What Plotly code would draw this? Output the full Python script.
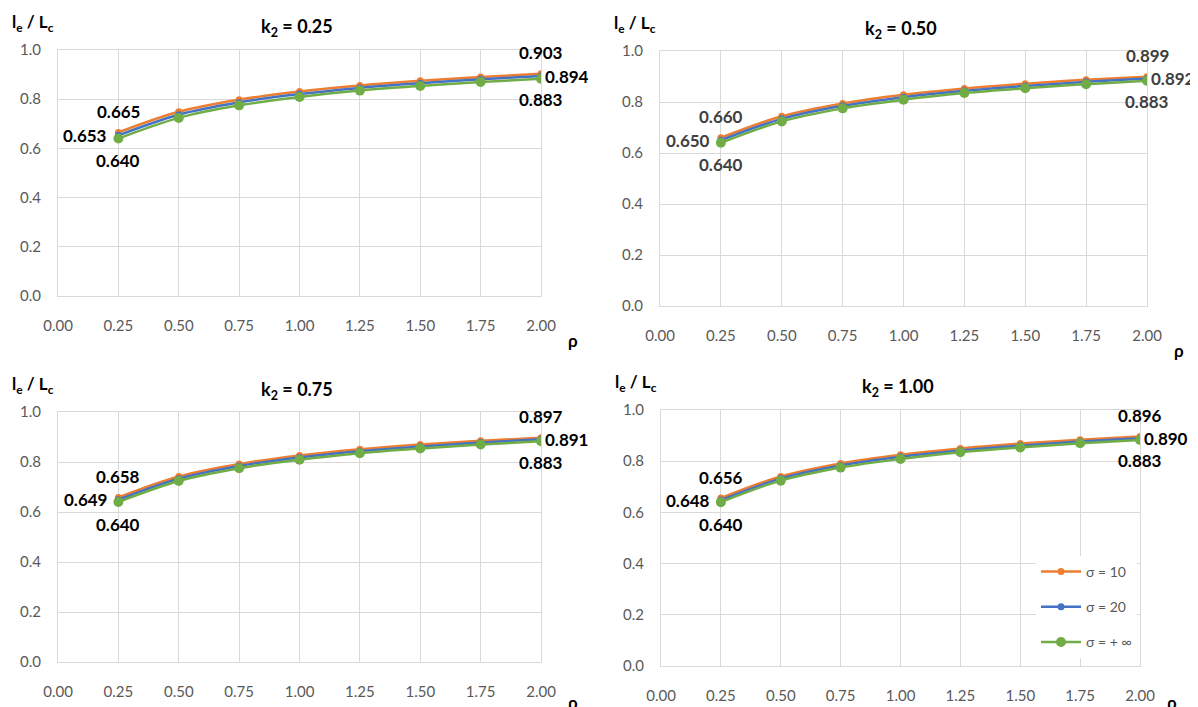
import plotly.graph_objects as go

OFF = 8  # page body margin offset
W, H = 1198 - OFF, 707 - OFF

rho = [0.25, 0.50, 0.75, 1.00, 1.25, 1.50, 1.75, 2.00]
x_ticks = [0.00, 0.25, 0.50, 0.75, 1.00, 1.25, 1.50, 1.75, 2.00]
y_ticks = [0.0, 0.2, 0.4, 0.6, 0.8, 1.0]

k2_labels = ["0.25", "0.50", "0.75", "1.00"]

sigma_inf = [0.640, 0.724, 0.775, 0.809, 0.835, 0.854, 0.870, 0.883]

s10_k025 = [0.665, 0.749, 0.798, 0.831, 0.856, 0.875, 0.890, 0.903]
s20_k025 = [0.653, 0.737, 0.787, 0.821, 0.846, 0.865, 0.881, 0.894]
s10_k050 = [0.660, 0.744, 0.794, 0.828, 0.853, 0.872, 0.887, 0.899]
s20_k050 = [0.650, 0.734, 0.785, 0.819, 0.844, 0.863, 0.879, 0.892]
s10_k075 = [0.658, 0.742, 0.792, 0.826, 0.851, 0.870, 0.885, 0.897]
s20_k075 = [0.649, 0.733, 0.784, 0.818, 0.843, 0.862, 0.878, 0.891]
s10_k100 = [0.656, 0.740, 0.791, 0.825, 0.850, 0.869, 0.884, 0.896]
s20_k100 = [0.648, 0.732, 0.783, 0.817, 0.842, 0.861, 0.877, 0.890]

series_names = ["σ = 10", "σ = 20", "σ = + ∞"]
colors = ["#ED7D31", "#4472C4", "#70AD47"]

panels_data = [
    (s10_k025, s20_k025, sigma_inf),
    (s10_k050, s20_k050, sigma_inf),
    (s10_k075, s20_k075, sigma_inf),
    (s10_k100, s20_k100, sigma_inf),
]

# plot-area pixel boxes in screen coords: left, right, top(1.0), bottom(0.0)
boxes = [
    (58, 541, 50, 296),
    (660, 1147, 51, 306),
    (58, 541, 412, 662),
    (661, 1140, 410, 666),
]
ann_colors = ["#000000", "#404040", "#000000", "#000000"]


def px(x):
    return (x - OFF) / W


def py(y):
    return 1 - (y - OFF) / H


FONT = "Lato"
fig = go.Figure()

for i, (data, box) in enumerate(zip(panels_data, boxes)):
    L, R, T, B = box
    xa = "xaxis" if i == 0 else f"xaxis{i+1}"
    ya = "yaxis" if i == 0 else f"yaxis{i+1}"
    xr = "x" if i == 0 else f"x{i+1}"
    yr = "y" if i == 0 else f"y{i+1}"
    for j, vals in enumerate(data):
        fig.add_trace(go.Scatter(
            x=rho, y=vals, mode="lines+markers", name=series_names[j],
            line=dict(color=colors[j], width=2.5, shape="spline"),
            marker=dict(color=colors[j], size=10 if j == 2 else 7),
            xaxis=xr, yaxis=yr, showlegend=(i == 3), legendgroup=f"g{j}",
        ))
    fig.layout[xa] = dict(
        domain=[px(L), px(R)], range=[0, 2], anchor=yr,
        tickvals=x_ticks, ticktext=[f"{v:.2f}" for v in x_ticks],
        showgrid=True, gridcolor="#D9D9D9", gridwidth=1, zeroline=False,
        showline=True, linecolor="#D9D9D9", mirror=True,
        tickfont=dict(family=FONT, size=15, color="#595959"),
        ticks="", ticklabelstandoff=16, fixedrange=True, automargin=False,
    )
    fig.layout[ya] = dict(
        domain=[py(B), py(T)], range=[0, 1], anchor=xr,
        tickvals=y_ticks, ticktext=[f"{v:.1f}" for v in y_ticks],
        showgrid=True, gridcolor="#D9D9D9", gridwidth=1, zeroline=False,
        showline=True, linecolor="#D9D9D9", mirror=True,
        tickfont=dict(family=FONT, size=15, color="#595959"),
        ticks="", ticklabelstandoff=13, fixedrange=True, automargin=False,
    )
    cx = (L + R) / 2
    # title
    fig.add_annotation(x=px(cx - 3), y=py(T - 22), xref="paper", yref="paper",
                       xanchor="center", yanchor="middle",
                       text=f"<b>k<sub>2</sub> = {k2_labels[i]}</b>", showarrow=False,
                       font=dict(family=FONT, size=18, color="#000000"))
    # y axis title
    fig.add_annotation(x=px(L - 25), y=py(T - 27), xref="paper", yref="paper",
                       xanchor="center", yanchor="middle",
                       text="<b>l<sub>e</sub> / L<sub>c</sub></b>", showarrow=False,
                       font=dict(family=FONT, size=17, color="#000000"))
    # x axis title
    fig.add_annotation(x=px(R + 32), y=py(min(B + 44, 702)), xref="paper", yref="paper",
                       xanchor="center", yanchor="middle",
                       text="<b>ρ</b>", showarrow=False,
                       font=dict(family=FONT, size=17, color="#000000"))
    # data labels
    ac = ann_colors[i]
    af = dict(family=FONT, size=17, color=ac)
    s10, s20, sinf = data
    fig.add_annotation(x=rho[0], y=s10[0], xref=xr, yref=yr, text=f"<b>{s10[0]:.3f}</b>",
                       showarrow=False, yshift=21, font=af)
    fig.add_annotation(x=rho[0], y=s20[0], xref=xr, yref=yr, text=f"<b>{s20[0]:.3f}</b>",
                       showarrow=False, xanchor="right", xshift=-9, font=af)
    fig.add_annotation(x=rho[0], y=sinf[0], xref=xr, yref=yr, text=f"<b>{sinf[0]:.3f}</b>",
                       showarrow=False, yshift=-22, font=af)
    fig.add_annotation(x=rho[-1], y=s10[-1], xref=xr, yref=yr, text=f"<b>{s10[-1]:.3f}</b>",
                       showarrow=False, yshift=21, font=af)
    fig.add_annotation(x=rho[-1], y=s20[-1], xref=xr, yref=yr, text=f"<b>{s20[-1]:.3f}</b>",
                       showarrow=False, xanchor="left", xshift=2, font=af)
    fig.add_annotation(x=rho[-1], y=sinf[-1], xref=xr, yref=yr, text=f"<b>{sinf[-1]:.3f}</b>",
                       showarrow=False, yshift=-21, font=af)

fig.update_layout(
    width=W, height=H, margin=dict(l=0, r=0, t=0, b=0, autoexpand=False),
    paper_bgcolor="white", plot_bgcolor="white",
    legend=dict(x=px(1036), y=py(556), xanchor="left", yanchor="top",
                bgcolor="white", borderwidth=0, tracegroupgap=14,
                font=dict(family=FONT, size=14, color="#595959"), itemwidth=40),
    font=dict(family=FONT),
)

fig.write_html("out.html")
